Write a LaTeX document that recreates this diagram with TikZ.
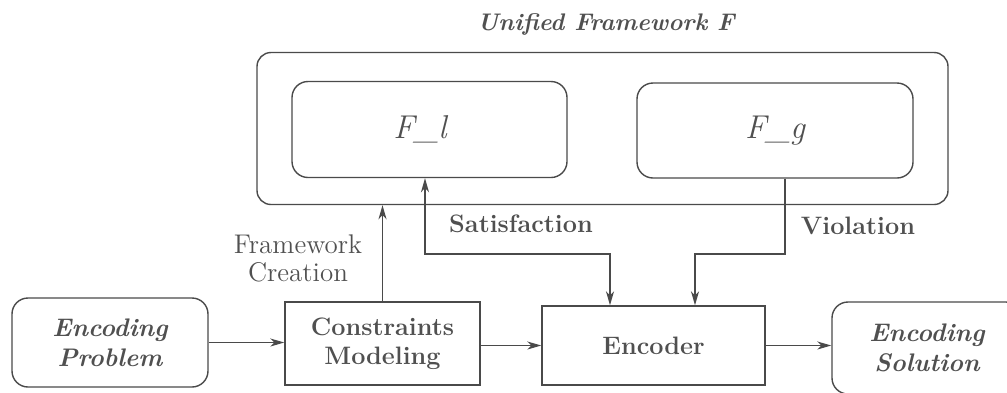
\documentclass[tikz,border=0pt]{standalone}
\usetikzlibrary{arrows.meta}
\definecolor{ink}{HTML}{4A4A4A}
\definecolor{txt}{HTML}{505050}
\begin{document}
\begin{tikzpicture}[x=0.5pt,y=-0.5pt,
  line width=0.7pt, draw=ink, text=txt,
  >={Stealth[length=7pt,width=4pt,inset=2pt]},
  rbox/.style={draw=ink, rounded corners=8pt, align=center, inner sep=0pt},
  sbox/.style={draw=ink, align=center, inner sep=0pt},
  bftext/.style={font=\fontsize{12.6}{14.5}\selectfont\bfseries},
  bitext/.style={font=\fontsize{12.7}{15}\selectfont\bfseries\itshape},
  ttext/.style={font=\fontsize{12}{14}\selectfont\bfseries\itshape},
  ftext/.style={font=\fontsize{16.5}{20}\selectfont\itshape},
  rmtext/.style={font=\fontsize{13.5}{14}\selectfont, align=center}]
\clip (0,0) rectangle (1007,392);
\fill[white] (0,0) rectangle (1007,392);

\node[ttext] (title) at (606,24) {Unified Framework F};
\node[rbox, minimum width=345.5pt, minimum height=76pt, rounded corners=7pt] (outer) at (602.5,128.5) {};
\node[rbox, minimum width=137.5pt, minimum height=48pt] (Fl) at (429.5,129.5) {};
\node[ftext] (Fltext) at (420,129.5) {F\_l};
\node[rbox, ftext, minimum width=138pt, minimum height=47.5pt] (Fg) at (775,130.5) {F\_g};

\node[rbox, bitext, minimum width=98pt, minimum height=44.5pt] (EP) at (110,342.5) {Encoding\\Problem};
\node[sbox, bftext, minimum width=97.5pt, minimum height=41.5pt] (CM) at (382.5,343.5) {Constraints\\Modeling};
\node[sbox, bftext, minimum width=111.5pt, minimum height=39.5pt] (Enc) at (653.5,345.5) {Encoder};
\node[rbox, bitext, minimum width=95pt, minimum height=46pt] (ES) at (927,348) {Encoding\\Solution};

\node[rmtext] (fc) at (298,258) {Framework\\Creation};
\node[bftext] (sl) at (521,224) {Satisfaction};
\node[bftext] (vl) at (858,226) {Violation};

\coordinate (sat) at (425,254);
\coordinate (satR) at (610,254);
\coordinate (vio) at (785,254);
\coordinate (vioL) at (695,254);

\draw[->] (EP.east) -- (CM.west |- EP.east);
\draw[->] (CM.east |- Enc.west) -- (Enc.west);
\draw[->] (Enc.east) -- (ES.west |- Enc.east);
\draw[->] (CM.north) -- (CM.north |- outer.south);
\draw[<->] (sat |- Fl.south) -- (sat) -- (satR) -- (satR |- Enc.north);
\draw[->] (vio |- Fg.south) -- (vio) -- (vioL) -- (vioL |- Enc.north);
\end{tikzpicture}
\end{document}
